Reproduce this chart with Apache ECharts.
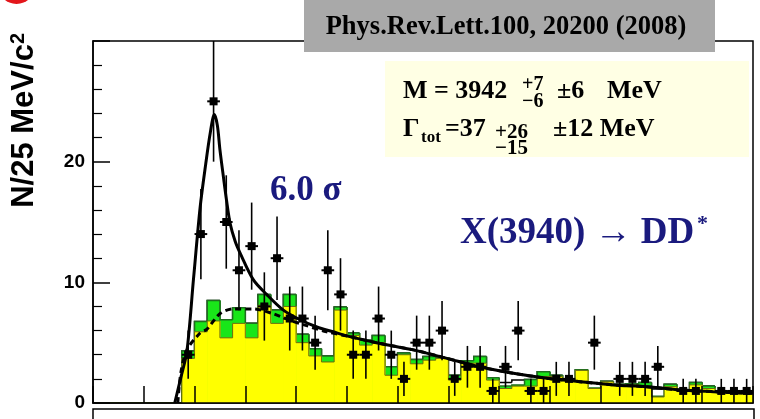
<!DOCTYPE html>
<html><head><meta charset="utf-8">
<script src="https://cdn.jsdelivr.net/npm/echarts@6/dist/echarts.min.js"></script>
<style>html,body{margin:0;padding:0;background:#fff;}#c{width:760px;height:419px;}</style>
</head><body><div id="c"></div>
<script>
// ---- data ----
const binLow = 3.700;      // GeV, low edge of first bin
const binWidth = 0.025;    // GeV (25 MeV bins)
const counts = [0,0,0,0,0,0,0, 4,14,25,15,11,13,8,12,7,7, 5,11,9,4,4,7,4,2,5,5, 6,2,3,3,1,3,6,1,1,2, 2,0,5,0,2,2,2,3,0,1, 1,0,1,1,1];
const countErr = [0,0,0,0,0,0,0, 2.0,3.74,5.0,3.87,3.32,3.61,2.83,3.46,2.65,2.65, 2.24,3.32,3.0,2.0,2.0,2.65,2.0,1.41,2.24,2.24, 2.45,1.41,1.73,1.73,1.0,1.73,2.45,1.0,1.0,1.41, 1.41,0,2.24,0,1.41,1.41,1.41,1.73,0,1.0, 1.0,0,1.0,1.0,1.0];
const yellowHist = [0,0,0,0,0,0,0, 3.7,5.9,6.8,5.4,6.6,5.4,8.1,6.6,8.0,5.0, 3.9,3.4,7.7,5.6,4.8,5.0,2.3,4.0,3.25,3.55, 3.7,1.9,3.3,3.3,1.9,1.2,1.4,1.4,2.2,2.2, 1.9,2.7,1.2,1.75,1.5,1.5,1.35,0.5,1.35,0.95, 1.5,1.2,0.95,0.95,0.95];
const greenHist = [0,0,0,0,0,0,0, 4.3,6.75,8.5,6.9,7.9,6.6,9.0,7.7,9.0,5.7, 4.5,3.9,7.95,5.8,5.2,5.6,3.0,4.15,3.6,3.85, 3.75,2.3,3.5,3.85,2.1,1.4,1.5,1.95,2.6,2.3, 2.0,2.75,1.25,1.8,1.55,1.6,1.7,0.55,1.55,1.0, 1.7,1.4,1.0,1.0,1.0];
const outlineHist = [0,0,0,0,0,0,0, 4.3,6.75,8.5,6.9,7.9,6.6,9.0,7.7,9.0,5.7, 4.5,3.9,7.95,5.8,5.2,5.6,3.0,4.15,3.6,3.85, 3.75,2.3,3.5,3.85,2.1,1.7,1.9,1.95,2.6,2.3, 2.0,2.75,1.65,1.8,1.55,1.6,1.7,1.15,1.55,1.0, 1.7,1.4,1.0,1.0,1.0];
const fitMass = [3.861,3.873,3.885,3.898,3.911,3.922,3.931,3.939,3.945,3.950,3.957,3.963,3.970,3.980,3.990,4.016,4.042,4.075,4.108,4.141,4.173,4.206,4.263,4.331,4.397,4.462,4.528,4.594,4.659,4.725,4.791,4.856,4.922,5.000];
const fitTotal = [0,2.1,4.3,10.3,16.2,19.8,22.4,23.9,23.0,21.0,18.7,16.8,14.9,13.4,12.4,10.2,9.0,7.7,6.9,6.3,5.9,5.5,4.95,4.4,3.7,3.0,2.46,2.05,1.77,1.5,1.35,1.08,0.94,0.8];
const bkgMass = [3.867,3.873,3.885,3.911,3.924,3.950,3.976,4.015,4.055,4.085,4.114,4.160,4.206,4.263,4.331,4.397,4.462,4.528,4.594,4.659,4.725,4.791,4.856,4.922,5.000];
const bkgVals = [0,2.5,4.4,5.8,6.1,7.4,7.8,7.8,7.4,6.9,6.5,5.9,5.5,4.95,4.4,3.7,3.0,2.46,2.05,1.77,1.5,1.35,1.08,0.94,0.8];
const yTickLabels = [0,10,20];

// ---- build ----
const serif = '"Liberation Serif","Times New Roman",serif';
const sans = '"Liberation Sans",Arial,sans-serif';
const navy = '#1a1a7e';

function histData(arr){ return arr.map((v,i)=>[binLow+i*binWidth, v, i>0?arr[i-1]:0]); }
function histRender(fill, stroke, lw){
  return function(params, api){
    const x0 = api.value(0), v = api.value(1), pv = api.value(2), x1 = x0 + binWidth;
    const tl = api.coord([x0, v]), br = api.coord([x1, 0]), tr = api.coord([x1, v]), pp = api.coord([x0, pv]);
    const ch = [];
    if (fill && v > 0) ch.push({type:'rect', z2:0, shape:{x:tl[0], y:tl[1], width:br[0]-tl[0]+0.6, height:br[1]-tl[1]}, style:{fill:fill}});
    if (stroke) ch.push({type:'polyline', z2:1, shape:{points:[pp, tl, tr]}, style:{stroke:stroke, lineWidth:lw, fill:null}});
    return {type:'group', children:ch};
  };
}
const pointData = [];
counts.forEach((c,i)=>{ if (c>0) pointData.push([binLow+i*binWidth, c, countErr[i]]); });

const chart = echarts.init(document.getElementById('c'));
chart.setOption({
  animation:false,
  grid:{left:93, right:7, top:41, bottom:16, show:true, borderColor:'#000', borderWidth:1.5, backgroundColor:'transparent'},
  xAxis:{type:'value', min:3.7, max:5.0, interval:0.1, z:10,
    axisLabel:{show:false}, splitLine:{show:false},
    axisLine:{lineStyle:{color:'#000', width:1.5}},
    axisTick:{inside:true, length:17, lineStyle:{color:'#000', width:1.5}}},
  yAxis:{type:'value', min:0, max:30, interval:10, z:10,
    splitLine:{show:false},
    axisLine:{show:true, lineStyle:{color:'#000', width:1.5}},
    axisTick:{inside:true, length:17, lineStyle:{color:'#000', width:1.5}},
    minorTick:{show:true, splitNumber:5, length:9, lineStyle:{color:'#000', width:1.2}},
    axisLabel:{margin:8, color:'#000', fontFamily:sans, fontWeight:'bold', fontSize:19,
      formatter:v=> yTickLabels.indexOf(v)>=0 ? String(v) : ''}},
  series:[
    {type:'custom', z:2, renderItem:histRender(null,'#000',1.5), data:histData(outlineHist), clip:true},
    {type:'custom', z:3, renderItem:histRender('#19e619','#1f6e1f',1.5), data:histData(greenHist), clip:true},
    {type:'custom', z:4, renderItem:histRender('#ffff00','#6b6b10',1.0), data:histData(yellowHist), clip:true},
    {type:'line', z:6, data:bkgMass.map((m,i)=>[m,bkgVals[i]]), smooth:0.3, showSymbol:false,
      lineStyle:{color:'#000', width:3, type:[6,4]}},
    {type:'line', z:7, data:fitMass.map((m,i)=>[m,fitTotal[i]]), smooth:0.3, showSymbol:false,
      lineStyle:{color:'#000', width:3}},
    {type:'custom', z:8, clip:true, data:pointData, renderItem:function(params, api){
      const x0 = api.value(0), v = api.value(1), e = api.value(2), xc = x0 + binWidth/2;
      const c = api.coord([xc, v]), l = api.coord([x0, v]), r = api.coord([x0+binWidth, v]);
      const t = api.coord([xc, v+e]), b = api.coord([xc, v-e]);
      return {type:'group', children:[
        {type:'line', shape:{x1:t[0], y1:t[1], x2:b[0], y2:b[1]}, style:{stroke:'#000', lineWidth:1.6}},
        {type:'line', shape:{x1:l[0], y1:l[1], x2:r[0], y2:r[1]}, style:{stroke:'#000', lineWidth:2}},
        {type:'rect', shape:{x:c[0]-4, y:c[1]-4, width:8, height:8}, style:{fill:'#000'}}
      ]};
    }}
  ],
  graphic:[
    {type:'circle', shape:{cx:16.5, cy:-14.5, r:18.5}, style:{fill:'#e3161b'}, z:100},
    {type:'rect', shape:{x:304, y:-1, width:411, height:53}, style:{fill:'#a9a9a9'}, z:100},
    {type:'text', x:506, y:27, z:101, style:{text:'Phys.Rev.Lett.100, 20200 (2008)', font:'bold 26.5px '+serif, fill:'#000', textAlign:'center', textVerticalAlign:'middle'}},
    {type:'rect', shape:{x:385, y:61, width:364, height:96}, style:{fill:'#ffffe4'}, z:100},
    {type:'text', x:403, y:91, z:101, style:{text:'M = 3942', font:'bold 26px '+serif, fill:'#000', textVerticalAlign:'middle'}},
    {type:'text', x:522, y:85, z:101, style:{text:'+7', font:'bold 20px '+serif, fill:'#000', textVerticalAlign:'middle'}},
    {type:'text', x:522, y:102, z:101, style:{text:'\u22126', font:'bold 20px '+serif, fill:'#000', textVerticalAlign:'middle'}},
    {type:'text', x:557, y:91, z:101, style:{text:'\u00b16', font:'bold 26px '+serif, fill:'#000', textVerticalAlign:'middle'}},
    {type:'text', x:607, y:91, z:101, style:{text:'MeV', font:'bold 26px '+serif, fill:'#000', textVerticalAlign:'middle'}},
    {type:'text', x:403, y:129, z:101, style:{text:'\u0393', font:'bold 26px '+serif, fill:'#000', textVerticalAlign:'middle'}},
    {type:'text', x:421, y:138, z:101, style:{text:'tot', font:'bold 17px '+serif, fill:'#000', textVerticalAlign:'middle'}},
    {type:'text', x:445, y:129, z:101, style:{text:'=37', font:'bold 26px '+serif, fill:'#000', textVerticalAlign:'middle'}},
    {type:'text', x:495, y:133, z:101, style:{text:'+26', font:'bold 21px '+serif, fill:'#000', textVerticalAlign:'middle'}},
    {type:'text', x:495, y:149, z:101, style:{text:'\u221215', font:'bold 21px '+serif, fill:'#000', textVerticalAlign:'middle'}},
    {type:'text', x:553, y:129, z:101, style:{text:'\u00b112 MeV', font:'bold 26px '+serif, fill:'#000', textVerticalAlign:'middle'}},
    {type:'text', x:270, y:191, z:101, style:{text:'6.0 \u03c3', font:'bold 35px '+serif, fill:navy, textVerticalAlign:'middle'}},
    {type:'text', x:460, y:233, z:101, style:{text:'X(3940) \u2192 DD', font:'bold 37px '+serif, fill:navy, textVerticalAlign:'middle'}},
    {type:'text', x:697, y:224, z:101, style:{text:'*', font:'bold 22px '+serif, fill:navy, textVerticalAlign:'middle'}},
    {type:'text', x:24, y:33, rotation:Math.PI/2, z:101, style:{
      text:'{a|N/25 MeV/c}{s|2}', textAlign:'right', textVerticalAlign:'middle',
      rich:{a:{font:'bold 31px '+sans, fill:'#000'}, s:{font:'bold 20px '+sans, fill:'#000', verticalAlign:'top'}}}},
    {type:'rect', shape:{x:93, y:409, width:661, height:40}, style:{fill:null, stroke:'#000', lineWidth:1.5}, z:100}
  ]
});
</script></body></html>
